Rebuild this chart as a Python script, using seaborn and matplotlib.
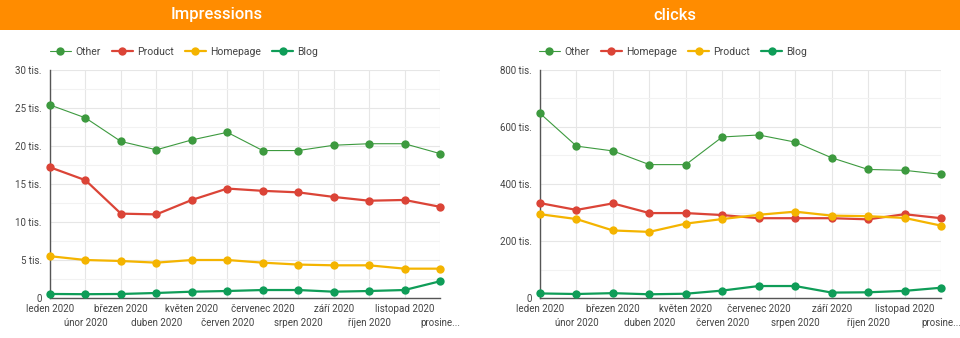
import matplotlib
matplotlib.use("Agg")
import matplotlib.pyplot as plt
import matplotlib.ticker as mticker
from matplotlib.lines import Line2D
import seaborn as sns
import pandas as pd

months = ["leden 2020", "únor 2020", "březen 2020", "duben 2020", "květen 2020",
          "červen 2020", "červenec 2020", "srpen 2020", "září 2020", "říjen 2020",
          "listopad 2020", "prosine..."]

# Impressions (thousands)
imp_other = [25.4, 23.7, 20.6, 19.5, 20.8, 21.8, 19.4, 19.4, 20.1, 20.3, 20.3, 19.0]
imp_product = [17.2, 15.5, 11.1, 11.0, 12.9, 14.4, 14.1, 13.9, 13.3, 12.8, 12.9, 12.0]
imp_homepage = [5.5, 5.0, 4.87, 4.65, 5.0, 5.0, 4.65, 4.4, 4.3, 4.3, 3.86, 3.86]
imp_blog = [0.53, 0.5, 0.53, 0.66, 0.83, 0.92, 1.05, 1.05, 0.83, 0.92, 1.05, 2.2]

# Clicks (thousands)
clk_other = [648, 533, 516, 468, 468, 565, 572, 547, 492, 451, 448, 434]
clk_homepage = [333, 309, 332, 298, 298, 291, 280, 280, 280, 276, 294, 280]
clk_product = [294, 277, 237, 232, 261, 277, 292, 303, 289, 287, 281, 254]
clk_blog = [16, 14, 17, 13, 15, 26, 42, 42, 19, 20, 25, 36]

C_OTHER = "#3d9a3f"
C_RED = "#db4437"
C_YEL = "#f4b400"
C_BLOG = "#0f9d58"
ORANGE = "#ff8c00"
TXT = "#444444"

sns.set_theme(style="white")
plt.rcParams["font.family"] = ["Roboto", "DejaVu Sans"]

W, H = 960, 338
fig = plt.figure(figsize=(W / 100, H / 100), dpi=100)
fig.patch.set_facecolor("white")

# header band
fig.patches.append(plt.Rectangle((0, 1 - 30 / H), 1, 30 / H, transform=fig.transFigure,
                                 facecolor=ORANGE, edgecolor="none", zorder=0))
fig.text(217 / W, 1 - 15 / H, "Impressions", color="white", fontsize=12, ha="center",
         va="center", fontweight="medium")
fig.text(675 / W, 1 - 15 / H, "clicks", color="white", fontsize=12, ha="center",
         va="center", fontweight="medium")


def px_axes(x0, x1, y0, y1):
    return fig.add_axes([x0 / W, 1 - y1 / H, (x1 - x0) / W, (y1 - y0) / H])


def draw(ax, series, ymax, major, minor, legend_x):
    idx = list(range(len(months)))
    handles = []
    for name, vals, color, lw in series:
        df = pd.DataFrame({"x": idx, "y": vals})
        sns.lineplot(data=df, x="x", y="y", ax=ax, color=color, linewidth=lw,
                     marker="o", markersize=6, markeredgewidth=0, clip_on=False, zorder=3)
        handles.append(Line2D([0], [0], color=color, linewidth=lw, marker="o",
                              markersize=6, markeredgewidth=0, label=name))
    ax.set_xlim(0, len(months) - 1)
    ax.set_ylim(0, ymax)
    ax.set_xlabel("")
    ax.set_ylabel("")
    ax.set_xticks(idx[0::2])
    ax.set_xticklabels(months[0::2], fontsize=7, color=TXT)
    ax.set_xticks(idx[1::2], minor=True)
    ax.set_xticklabels(months[1::2], minor=True, fontsize=7, color=TXT)
    ax.tick_params(axis="x", which="major", length=0, pad=4)
    ax.tick_params(axis="x", which="minor", length=0, pad=14.5)
    ax.yaxis.set_major_locator(mticker.MultipleLocator(major))
    ax.yaxis.set_minor_locator(mticker.MultipleLocator(minor))
    ax.yaxis.set_major_formatter(mticker.FuncFormatter(
        lambda v, p: "0" if v == 0 else f"{v:g} tis."))
    ax.yaxis.set_minor_formatter(mticker.NullFormatter())
    ax.tick_params(axis="y", which="both", length=0, pad=6, labelsize=7, labelcolor=TXT)
    ax.grid(True, which="major", color="#e6e6e6", linewidth=0.8)
    ax.grid(True, which="minor", axis="x", color="#e6e6e6", linewidth=0.8)
    ax.grid(True, which="minor", axis="y", color="#f2f2f2", linewidth=0.8)
    for s in ["top", "right"]:
        ax.spines[s].set_visible(False)
    for s in ["left", "bottom"]:
        ax.spines[s].set_color("#555555")
        ax.spines[s].set_linewidth(1.0)
    fig.legend(handles=handles, loc="center left",
               bbox_to_anchor=(legend_x / W, 1 - 52 / H), ncol=4, frameon=False,
               fontsize=7.5, handlelength=2.0, handletextpad=0.4, columnspacing=1.1,
               labelcolor=TXT, borderaxespad=0, borderpad=0)


ax1 = px_axes(50, 440, 70, 298)
draw(ax1, [("Other", imp_other, C_OTHER, 0.8),
           ("Product", imp_product, C_RED, 1.6),
           ("Homepage", imp_homepage, C_YEL, 1.6),
           ("Blog", imp_blog, C_BLOG, 1.6)], 30, 5, 2.5, 50)

ax2 = px_axes(540, 941, 70, 298)
draw(ax2, [("Other", clk_other, C_OTHER, 0.8),
           ("Homepage", clk_homepage, C_RED, 1.6),
           ("Product", clk_product, C_YEL, 1.6),
           ("Blog", clk_blog, C_BLOG, 1.6)], 800, 200, 100, 539)

fig.savefig("out.png", dpi=100, facecolor="white")
